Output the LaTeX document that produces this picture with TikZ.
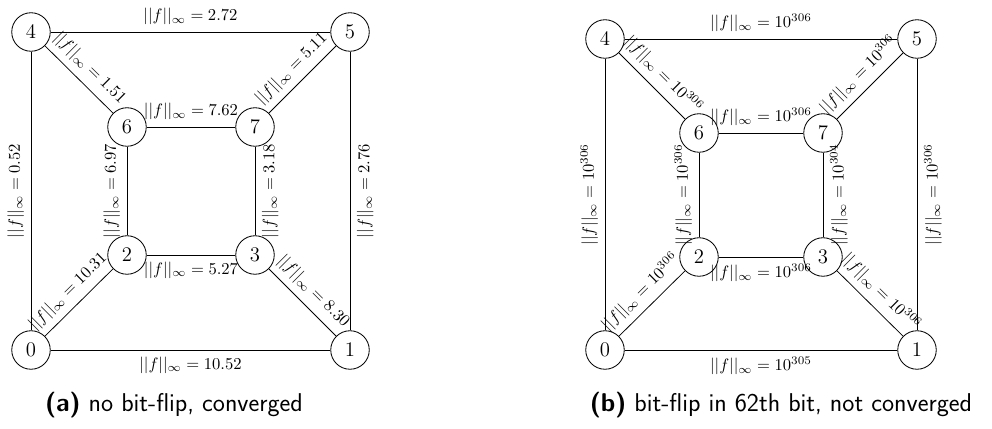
\documentclass[tikz,border=0pt]{standalone}
\usepackage{fontspec}
\begin{document}
\begin{tikzpicture}[x=0.6024pt,y=-0.6024pt,
  vtx/.style={draw,circle,minimum size=23.2pt,inner sep=0pt,line width=0.5pt,font=\fontsize{12.5}{15}\selectfont},
  lab/.style={font=\normalsize,inner sep=4pt},
  edge/.style={line width=0.45pt},
  captext/.style={anchor=base,inner sep=0pt,font=\sffamily\fontsize{15.5}{18}\selectfont}]
\useasboundingbox (0,0) rectangle (992,429);
% ---------- left graph
\node[vtx] (a4) at (31,32) {4};
\node[vtx] (a5) at (350,32) {5};
\node[vtx] (a6) at (127,127) {6};
\node[vtx] (a7) at (255,127) {7};
\node[vtx] (a2) at (127,255) {2};
\node[vtx] (a3) at (255,255) {3};
\node[vtx] (a0) at (31,350) {0};
\node[vtx] (a1) at (350,350) {1};
\draw[edge] (a4) -- node[lab,above] {$||f||_\infty = 2.72$} (a5);
\draw[edge] (a4) -- node[lab,sloped,above] {$||f||_\infty = 1.51$} (a6);
\draw[edge] (a7) -- node[lab,sloped,above] {$||f||_\infty = 5.11$} (a5);
\draw[edge] (a6) -- node[lab,above] {$||f||_\infty = 7.62$} (a7);
\draw[edge] (a2) -- node[lab,below] {$||f||_\infty = 5.27$} (a3);
\draw[edge] (a0) -- node[lab,below] {$||f||_\infty = 10.52$} (a1);
\draw[edge] (a0) -- node[lab,sloped,above] {$||f||_\infty = 0.52$} (a4);
\draw[edge] (a2) -- node[lab,sloped,above] {$||f||_\infty = 6.97$} (a6);
\draw[edge] (a3) -- node[lab,sloped,below] {$||f||_\infty = 3.18$} (a7);
\draw[edge] (a1) -- node[lab,sloped,below] {$||f||_\infty = 2.76$} (a5);
\draw[edge] (a0) -- node[lab,sloped,above] {$||f||_\infty = 10.31$} (a2);
\draw[edge] (a3) -- node[lab,sloped,above] {$||f||_\infty = 8.30$} (a1);
% ---------- right graph
\node[vtx] (b4) at (605,39) {4};
\node[vtx] (b5) at (917,39) {5};
\node[vtx] (b6) at (699,133) {6};
\node[vtx] (b7) at (823,133) {7};
\node[vtx] (b2) at (699,257) {2};
\node[vtx] (b3) at (823,257) {3};
\node[vtx] (b0) at (605,350) {0};
\node[vtx] (b1) at (917,350) {1};
\draw[edge] (b4) -- node[lab,above] {$||f||_\infty = 10^{306}$} (b5);
\draw[edge] (b4) -- node[lab,sloped,above] {$||f||_\infty = 10^{306}$} (b6);
\draw[edge] (b7) -- node[lab,sloped,above] {$||f||_\infty = 10^{306}$} (b5);
\draw[edge] (b6) -- node[lab,above] {$||f||_\infty = 10^{306}$} (b7);
\draw[edge] (b2) -- node[lab,below] {$||f||_\infty = 10^{306}$} (b3);
\draw[edge] (b0) -- node[lab,below] {$||f||_\infty = 10^{305}$} (b1);
\draw[edge] (b0) -- node[lab,sloped,above] {$||f||_\infty = 10^{306}$} (b4);
\draw[edge] (b2) -- node[lab,sloped,above] {$||f||_\infty = 10^{306}$} (b6);
\draw[edge] (b3) -- node[lab,sloped,below] {$||f||_\infty = 10^{304}$} (b7);
\draw[edge] (b1) -- node[lab,sloped,below] {$||f||_\infty = 10^{306}$} (b5);
\draw[edge] (b0) -- node[lab,sloped,above] {$||f||_\infty = 10^{306}$} (b2);
\draw[edge] (b3) -- node[lab,sloped,above] {$||f||_\infty = 10^{306}$} (b1);
% ---------- captions
\node[captext] (capa) at (174,412) {\textbf{(a)} no bit-flip, converged};
\node[captext] (capb) at (781,412) {\textbf{(b)} bit-flip in 62th bit, not converged};
\end{tikzpicture}
\end{document}
